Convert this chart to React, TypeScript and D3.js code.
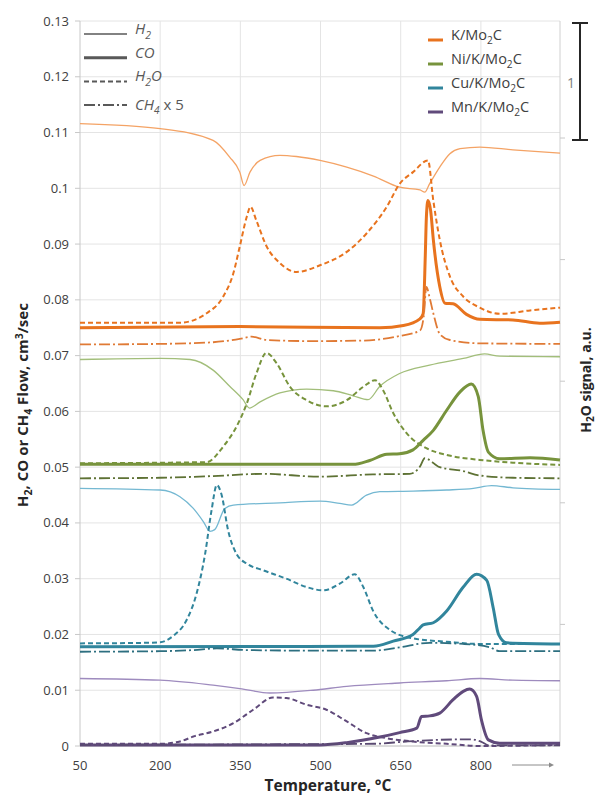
import React from 'react';
import * as d3 from 'd3';

// plot box (Excel-style chart)
const margin = { top: 21, right: 38, bottom: 54, left: 80 };
const width = 598;
const height = 800;

const xTicks = [50, 200, 350, 500, 650, 800];
const yTicks = d3.range(0, 0.1301, 0.01);
const rightTicks = [1, 2, 3, 4, 5];

// [temperature, flow]
const kH2 = [[50,0.1116],[200,0.1107],[299,0.1086],[330,0.1056],[349,0.1029],[357,0.1005],[368,0.1029],[387,0.1050],[424,0.1059],[455,0.1057],[499,0.1050],[549,0.1038],[599,0.1022],[648,0.1002],[686,0.0997],[695,0.0993],[704,0.1008],[723,0.1038],[742,0.1062],[761,0.1071],[798,0.1074],[860,0.1069],[948,0.1063]];
const kH2O = [[50,0.0759],[237,0.0759],[287,0.0776],[318,0.0806],[337,0.0848],[349,0.0896],[362,0.0949],[369,0.0967],[380,0.0942],[399,0.0896],[424,0.0866],[455,0.0850],[499,0.0862],[549,0.0886],[586,0.0919],[624,0.0967],[648,0.1008],[673,0.1029],[701,0.1050],[711,0.0978],[723,0.0908],[742,0.0842],[767,0.0806],[798,0.0786],[835,0.0775],[892,0.0781],[948,0.0786]];
const kCO = [[50,0.0750],[349,0.0752],[611,0.0750],[655,0.0754],[686,0.0766],[692,0.0775],[696,0.0880],[698,0.0948],[701,0.0978],[706,0.0960],[711,0.0908],[723,0.0824],[733,0.0794],[748,0.0793],[773,0.0774],[798,0.0765],[860,0.0764],[910,0.0758],[948,0.0760]];
const kCH4 = [[50,0.0720],[200,0.0721],[299,0.0724],[349,0.0730],[371,0.0734],[399,0.0728],[486,0.0726],[580,0.0727],[642,0.0734],[686,0.0745],[693,0.0770],[698,0.0823],[705,0.0800],[711,0.0776],[723,0.0739],[742,0.0728],[798,0.0722],[948,0.0721]];

const niH2 = [[50,0.0693],[200,0.0695],[256,0.0693],[299,0.0674],[330,0.0645],[355,0.0621],[367,0.0606],[387,0.0617],[424,0.0633],[474,0.0640],[524,0.0637],[561,0.0628],[589,0.0621],[611,0.0645],[648,0.0668],[704,0.0683],[767,0.0695],[807,0.0703],[835,0.0699],[948,0.0698]];
const niH2O = [[50,0.0507],[287,0.0509],[318,0.0537],[343,0.0573],[362,0.0614],[380,0.0668],[399,0.0705],[418,0.0686],[443,0.0644],[474,0.0620],[511,0.0609],[549,0.0620],[580,0.0644],[602,0.0656],[617,0.0638],[636,0.0597],[661,0.0561],[698,0.0534],[736,0.0522],[798,0.0513],[860,0.0508],[948,0.0504]];
const niCO = [[50,0.0505],[561,0.0505],[592,0.0512],[624,0.0523],[648,0.0524],[673,0.0531],[692,0.0548],[711,0.0566],[736,0.0602],[761,0.0635],[782,0.0649],[795,0.0627],[804,0.0566],[814,0.0527],[835,0.0515],[892,0.0517],[948,0.0513]];
const niCH4 = [[50,0.0480],[200,0.0481],[299,0.0484],[393,0.0488],[499,0.0483],[598,0.0487],[667,0.0488],[686,0.0501],[695,0.0516],[723,0.0500],[767,0.0493],[798,0.0485],[860,0.0481],[948,0.0480]];

const cuH2 = [[50,0.0462],[200,0.0459],[237,0.0447],[262,0.0426],[281,0.0402],[293,0.0385],[302,0.0388],[321,0.0426],[337,0.0432],[424,0.0436],[499,0.0439],[536,0.0435],[558,0.0432],[586,0.0450],[611,0.0456],[673,0.0457],[736,0.0459],[786,0.0462],[820,0.0467],[860,0.0463],[948,0.0460]];
const cuH2O = [[50,0.0184],[175,0.0185],[200,0.0186],[225,0.0198],[249,0.0225],[268,0.0273],[284,0.0344],[296,0.0422],[306,0.0468],[315,0.0450],[327,0.0387],[343,0.0344],[362,0.0327],[393,0.0315],[436,0.0300],[474,0.0285],[505,0.0279],[536,0.0291],[564,0.0308],[580,0.0285],[599,0.0241],[630,0.0208],[673,0.0193],[736,0.0187],[798,0.0183],[948,0.0183]];
const cuCO = [[50,0.0178],[599,0.0179],[636,0.0188],[673,0.0200],[686,0.0212],[692,0.0217],[711,0.0221],[736,0.0242],[767,0.0285],[792,0.0308],[811,0.0297],[823,0.0248],[833,0.0200],[848,0.0185],[948,0.0183]];
const cuCH4 = [[50,0.0169],[200,0.0170],[262,0.0172],[306,0.0175],[362,0.0172],[486,0.0171],[599,0.0171],[648,0.0177],[704,0.0185],[767,0.0183],[817,0.0177],[835,0.0170],[948,0.0170]];

const mnH2 = [[50,0.0121],[200,0.0118],[299,0.0109],[349,0.0103],[405,0.0095],[486,0.0100],[549,0.0107],[648,0.0113],[736,0.0117],[798,0.0121],[860,0.0118],[948,0.0117]];
const mnH2O = [[50,0.0004],[200,0.0004],[237,0.0008],[262,0.0017],[299,0.0026],[337,0.0041],[374,0.0065],[411,0.0087],[436,0.0086],[474,0.0074],[511,0.0065],[549,0.0044],[586,0.0023],[624,0.0014],[673,0.0008],[736,0.0004],[798,0.0000],[948,0.0002]];
const mnCO = [[50,0.0002],[499,0.0002],[549,0.0006],[611,0.0016],[648,0.0024],[680,0.0032],[689,0.0053],[704,0.0054],[723,0.0059],[748,0.0083],[767,0.0098],[779,0.0102],[792,0.0089],[801,0.0047],[814,0.0011],[835,0.0005],[948,0.0005]];
const mnCH4 = [[50,0.0002],[400,0.0003],[600,0.0004],[660,0.0008],[720,0.0011],[780,0.0012],[800,0.0008],[815,0.0001],[948,0.0001]];

const catalysts = ['K/Mo2C', 'Ni/K/Mo2C', 'Cu/K/Mo2C', 'Mn/K/Mo2C'];
const mainColors = ['#E8731E', '#77933C', '#31859C', '#604A7B'];
const thinColors = ['#F4A365', '#A2BE7A', '#74B8D2', '#9E8BBE'];
const ch4Colors = ['#E07A35', '#5E7234', '#2D6F80', '#5A4A72'];

const seriesData = [
  [kH2, kCO, kH2O, kCH4],
  [niH2, niCO, niH2O, niCH4],
  [cuH2, cuCO, cuH2O, cuCH4],
  [mnH2, mnCO, mnH2O, mnCH4],
];

const x = d3.scaleLinear().domain([50, 948]).range([margin.left, width - margin.right]);
const y = d3.scaleLinear().domain([0, 0.13]).range([height - margin.bottom, margin.top]);
const yRight = d3.scaleLinear().domain([0, 1]).range([0, 121.6]);

const line = d3.line<number[]>()
  .x(d => x(d[0]))
  .y(d => y(d[1]))
  .curve(d3.curveMonotoneX);

const styles = [
  { w: 1.3, dash: null },
  { w: 3, dash: null },
  { w: 2, dash: '5,3' },
  { w: 1.8, dash: '11,3,2,3' },
];

const font = 'Open Sans, Calibri, sans-serif';

// text with a subscript digit, e.g. Mo2C
function Chem({ s, size }: { s: string; size: number }) {
  const parts = s.split(/(\d)/).filter(p => p !== '');
  let shifted = false;
  return (
    <>
      {parts.map((p, i) => {
        if (/\d/.test(p)) {
          shifted = true;
          return <tspan key={i} dy={size * 0.3} fontSize={size * 0.7}>{p}</tspan>;
        }
        const dy = shifted ? -size * 0.3 : 0;
        shifted = false;
        return <tspan key={i} dy={dy}>{p}</tspan>;
      })}
    </>
  );
}

export default function App() {
  const x0 = margin.left;
  const x1 = width - margin.right;
  const yBottom = height - margin.bottom;
  const legendLeft = [
    { label: 'H2', w: 1.3, dash: null },
    { label: 'CO', w: 3, dash: null },
    { label: 'H2O', w: 2, dash: '5,3' },
    { label: 'CH4 x 5', w: 2, dash: '11,3,2,3' },
  ];
  return (
    <svg width={width} height={height} style={{ position: 'absolute', left: 0, top: 0, background: '#fff' }} fontFamily={font}>
      {/* grid */}
      {yTicks.map(t => (
        <line key={'gy' + t} x1={x0} x2={x1} y1={y(t)} y2={y(t)} stroke="#E4E4E4" strokeWidth={1} />
      ))}
      {xTicks.slice(1).map(t => (
        <line key={'gx' + t} x1={x(t)} x2={x(t)} y1={margin.top} y2={yBottom} stroke="#E4E4E4" strokeWidth={1} />
      ))}
      {/* axes */}
      <line x1={x0} x2={x0} y1={margin.top} y2={yBottom} stroke="#C8C8C8" />
      <line x1={x0} x2={x1} y1={yBottom} y2={yBottom} stroke="#C8C8C8" />
      <line x1={x1} x2={x1} y1={margin.top} y2={yBottom} stroke="#D0D0D0" />
      {yTicks.map(t => (
        <g key={'ty' + t}>
          <line x1={x0 - 5} x2={x0} y1={y(t)} y2={y(t)} stroke="#C8C8C8" />
          <text x={x0 - 11} y={y(t)} dy="0.35em" textAnchor="end" fontSize={13} fill="#404040">
            {d3.format('~g')(+t.toFixed(2))}
          </text>
        </g>
      ))}
      {rightTicks.map(t => (
        <line key={'tr' + t} x1={x1} x2={x1 + 5} y1={yBottom - yRight(t)} y2={yBottom - yRight(t)} stroke="#C8C8C8" />
      ))}
      {xTicks.map(t => (
        <text key={'tx' + t} x={x(t)} y={yBottom + 19} dy="0.35em" textAnchor="middle" fontSize={13} fill="#404040">
          {t}
        </text>
      ))}
      {/* arrow after last tick */}
      <line x1={512} x2={549} y1={yBottom + 19} y2={yBottom + 19} stroke="#8C8C8C" strokeWidth={1} />
      <path d={`M549,${yBottom + 16.5} L554,${yBottom + 19} L549,${yBottom + 21.5} Z`} fill="#8C8C8C" />

      {/* series */}
      {seriesData.map((group, ci) => (
        <g key={catalysts[ci]}>
          {group.map((data, si) => (
            <path
              key={si}
              d={line(data as number[][]) || ''}
              fill="none"
              stroke={si === 0 ? thinColors[ci] : si === 3 ? ch4Colors[ci] : mainColors[ci]}
              strokeWidth={styles[si].w}
              strokeDasharray={styles[si].dash || undefined}
              strokeLinejoin="round"
            />
          ))}
        </g>
      ))}

      {/* gas legend */}
      {legendLeft.map((d, i) => {
        const ly = 34 + i * 23.7;
        return (
          <g key={d.label}>
            <line x1={84} x2={127} y1={ly} y2={ly} stroke="#595959" strokeWidth={d.w} strokeDasharray={d.dash || undefined} />
            <text x={135} y={ly} dy="0.35em" fontSize={15} fill="#595959" fontStyle="italic">
              {i === 3 ? (
                <>
                  <tspan>CH</tspan>
                  <tspan dy={4} fontSize={10}>4</tspan>
                  <tspan dy={-4} fontStyle="normal"> x 5</tspan>
                </>
              ) : (
                <Chem s={d.label} size={15} />
              )}
            </text>
          </g>
        );
      })}

      {/* catalyst legend */}
      {catalysts.map((c, i) => {
        const ly = 40 + i * 24;
        return (
          <g key={c}>
            <line x1={428} x2={443} y1={ly} y2={ly} stroke={mainColors[i]} strokeWidth={3} />
            <text x={451} y={ly} dy="0.35em" fontSize={14.5} fill="#404040">
              <Chem s={c} size={14.5} />
            </text>
          </g>
        );
      })}

      {/* scale bar for H2O signal */}
      <g stroke="#262626" strokeWidth={2}>
        <line x1={580} x2={580} y1={23} y2={140} />
        <line x1={572} x2={588} y1={23} y2={23} />
        <line x1={572} x2={588} y1={140} y2={140} />
      </g>
      <text x={571} y={83} dy="0.35em" textAnchor="middle" fontSize={14} fill="#7F7F7F">1</text>

      {/* axis titles */}
      <text x={328} y={791} textAnchor="middle" fontSize={15.5} fontWeight="bold" fill="#262626">
        Temperature, °C
      </text>
      <text transform="translate(28,405) rotate(-90)" textAnchor="middle" fontSize={15} fontWeight="bold" fill="#262626">
        <tspan>H</tspan>
        <tspan dy={4} fontSize={10.5}>2</tspan>
        <tspan dy={-4}>, CO or CH</tspan>
        <tspan dy={4} fontSize={10.5}>4</tspan>
        <tspan dy={-4}> Flow, cm</tspan>
        <tspan dy={-5} fontSize={10.5}>3</tspan>
        <tspan dy={5}>/sec</tspan>
      </text>
      <text transform="translate(591,380) rotate(-90)" textAnchor="middle" fontSize={14} fontWeight="bold" fill="#262626">
        <tspan>H</tspan>
        <tspan dy={3} fontSize={10}>2</tspan>
        <tspan dy={-3}>O signal, a.u.</tspan>
      </text>
    </svg>
  );
}
